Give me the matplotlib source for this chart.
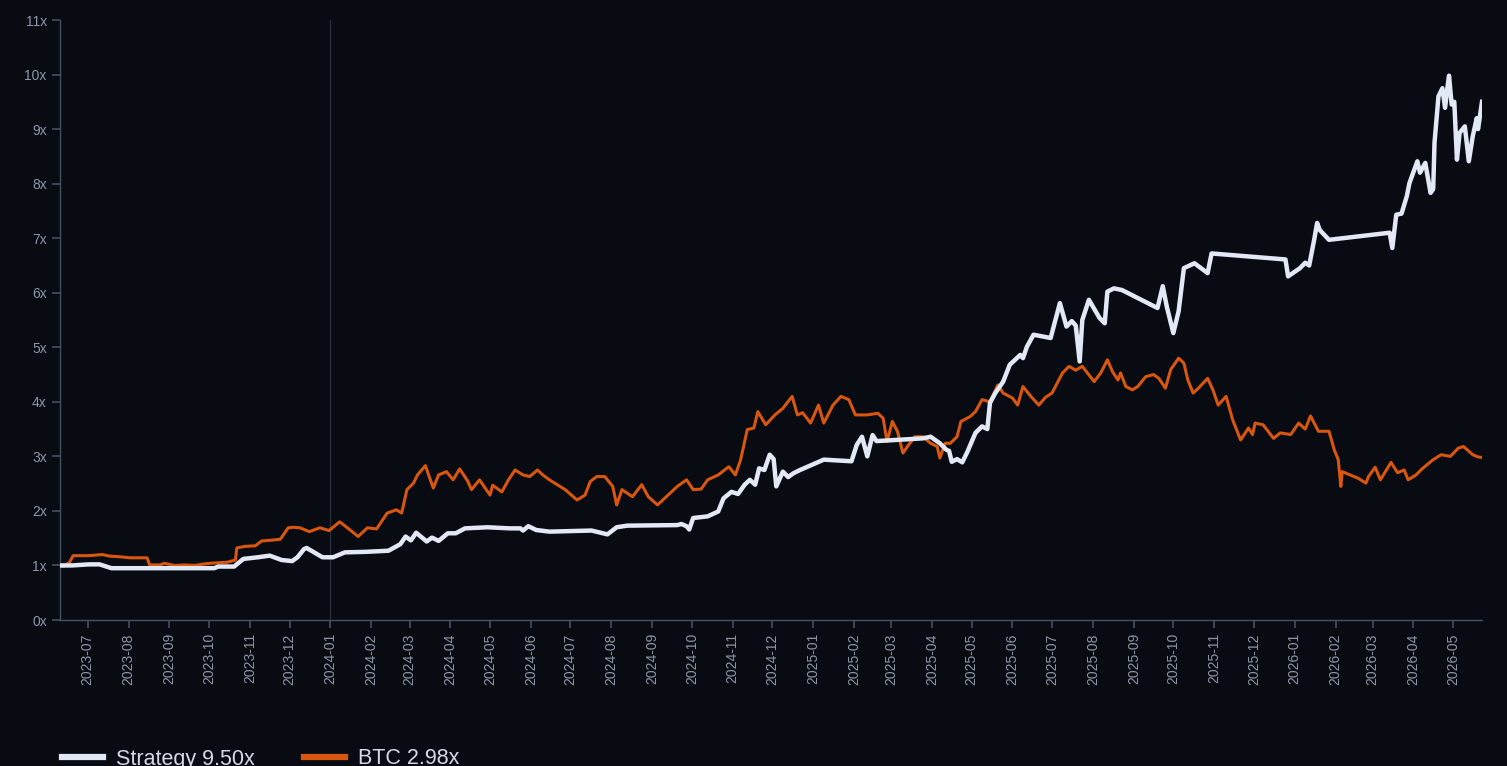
import matplotlib
matplotlib.use("Agg")
import matplotlib.pyplot as plt
import matplotlib.dates as mdates
from matplotlib.lines import Line2D
import pandas as pd

# --- data ---
strategy_dates = [
    "2023-06-10", "2023-06-19", "2023-07-02", "2023-07-10", "2023-07-19", "2023-10-05",
    "2023-10-08", "2023-10-20", "2023-10-27", "2023-11-07", "2023-11-16", "2023-11-25",
    "2023-12-03", "2023-12-07", "2023-12-12", "2023-12-14", "2023-12-26", "2024-01-03",
    "2024-01-12", "2024-01-28", "2024-02-14", "2024-02-23", "2024-02-27", "2024-03-02",
    "2024-03-06", "2024-03-14", "2024-03-18", "2024-03-23", "2024-03-30", "2024-04-05",
    "2024-04-12", "2024-04-29", "2024-05-16", "2024-05-24", "2024-05-26", "2024-05-30",
    "2024-06-05", "2024-06-15", "2024-07-17", "2024-07-29", "2024-08-05", "2024-08-13",
    "2024-09-20", "2024-09-23", "2024-09-27", "2024-09-29", "2024-10-02", "2024-10-13",
    "2024-10-21", "2024-10-25", "2024-10-31", "2024-11-05", "2024-11-10", "2024-11-14",
    "2024-11-18", "2024-11-21", "2024-11-25", "2024-11-29", "2024-12-02", "2024-12-04",
    "2024-12-09", "2024-12-13", "2024-12-17", "2024-12-22", "2025-01-09", "2025-01-30",
    "2025-02-03", "2025-02-07", "2025-02-11", "2025-02-15", "2025-02-18", "2025-03-25",
    "2025-03-31", "2025-04-07", "2025-04-12", "2025-04-14", "2025-04-16", "2025-04-20",
    "2025-04-24", "2025-04-28", "2025-05-04", "2025-05-09", "2025-05-13", "2025-05-15",
    "2025-05-19", "2025-05-25", "2025-05-30", "2025-06-07", "2025-06-09", "2025-06-12",
    "2025-06-17", "2025-06-30", "2025-07-07", "2025-07-12", "2025-07-16", "2025-07-19",
    "2025-07-22", "2025-07-24", "2025-07-29", "2025-08-06", "2025-08-10", "2025-08-12",
    "2025-08-17", "2025-08-23", "2025-09-19", "2025-09-23", "2025-09-26", "2025-10-01",
    "2025-10-05", "2025-10-09", "2025-10-17", "2025-10-27", "2025-10-30", "2025-12-25",
    "2025-12-27", "2026-01-05", "2026-01-09", "2026-01-12", "2026-01-16", "2026-01-18",
    "2026-01-20", "2026-01-27", "2026-03-14", "2026-03-16", "2026-03-19", "2026-03-23",
    "2026-03-27", "2026-03-29", "2026-04-04", "2026-04-06", "2026-04-10", "2026-04-14",
    "2026-04-16", "2026-04-17", "2026-04-20", "2026-04-23", "2026-04-25", "2026-04-27",
    "2026-04-28", "2026-04-30", "2026-05-02", "2026-05-04", "2026-05-06", "2026-05-10",
    "2026-05-13", "2026-05-16", "2026-05-19", "2026-05-20", "2026-05-23",
]
strategy_values = [
    1.00, 1.00, 1.02, 1.02, 0.95, 0.95,
    0.98, 0.98, 1.12, 1.15, 1.18, 1.10,
    1.08, 1.15, 1.30, 1.32, 1.15, 1.15,
    1.24, 1.25, 1.27, 1.39, 1.53, 1.46,
    1.60, 1.44, 1.51, 1.45, 1.59, 1.59,
    1.68, 1.70, 1.68, 1.68, 1.64, 1.72,
    1.65, 1.62, 1.64, 1.57, 1.70, 1.73,
    1.74, 1.76, 1.72, 1.66, 1.87, 1.90,
    1.99, 2.23, 2.35, 2.31, 2.48, 2.57,
    2.48, 2.78, 2.75, 3.03, 2.95, 2.45,
    2.72, 2.62, 2.69, 2.75, 2.94, 2.91,
    3.21, 3.36, 3.00, 3.39, 3.28, 3.33,
    3.36, 3.24, 3.12, 3.10, 2.90, 2.95,
    2.89, 3.09, 3.43, 3.55, 3.50, 3.98,
    4.16, 4.37, 4.68, 4.86, 4.80, 5.01,
    5.23, 5.17, 5.81, 5.38, 5.48, 5.40,
    4.74, 5.50, 5.87, 5.54, 5.44, 6.02,
    6.08, 6.05, 5.72, 6.12, 5.75, 5.26,
    5.66, 6.45, 6.54, 6.36, 6.72, 6.61,
    6.30, 6.45, 6.55, 6.50, 7.00, 7.28,
    7.15, 6.97, 7.10, 6.82, 7.43, 7.45,
    7.77, 8.01, 8.41, 8.20, 8.38, 7.83,
    7.90, 8.75, 9.60, 9.75, 9.39, 9.80,
    9.98, 9.45, 9.50, 8.44, 8.93, 9.05,
    8.41, 8.87, 9.20, 9.00, 9.50,
]

btc_dates = [
    "2023-06-10", "2023-06-13", "2023-06-17", "2023-06-20", "2023-06-25", "2023-07-02",
    "2023-07-12", "2023-07-18", "2023-07-25", "2023-08-02", "2023-08-09", "2023-08-15",
    "2023-08-17", "2023-08-25", "2023-08-28", "2023-09-05", "2023-09-13", "2023-09-20",
    "2023-09-28", "2023-10-02", "2023-10-09", "2023-10-15", "2023-10-21", "2023-10-22",
    "2023-10-28", "2023-11-05", "2023-11-10", "2023-11-16", "2023-11-24", "2023-11-30",
    "2023-12-04", "2023-12-09", "2023-12-16", "2023-12-24", "2023-12-31", "2024-01-08",
    "2024-01-16", "2024-01-22", "2024-01-29", "2024-02-05", "2024-02-13", "2024-02-20",
    "2024-02-24", "2024-02-28", "2024-03-04", "2024-03-07", "2024-03-13", "2024-03-15",
    "2024-03-19", "2024-03-23", "2024-03-29", "2024-04-03", "2024-04-08", "2024-04-14",
    "2024-04-17", "2024-04-23", "2024-05-01", "2024-05-03", "2024-05-10", "2024-05-15",
    "2024-05-20", "2024-05-26", "2024-05-31", "2024-06-06", "2024-06-10", "2024-06-15",
    "2024-06-19", "2024-06-27", "2024-07-06", "2024-07-12", "2024-07-16", "2024-07-21",
    "2024-07-27", "2024-08-02", "2024-08-05", "2024-08-09", "2024-08-17", "2024-08-24",
    "2024-08-29", "2024-09-05", "2024-09-13", "2024-09-20", "2024-09-27", "2024-10-02",
    "2024-10-08", "2024-10-13", "2024-10-21", "2024-10-29", "2024-11-03", "2024-11-07",
    "2024-11-12", "2024-11-17", "2024-11-20", "2024-11-26", "2024-12-03", "2024-12-09",
    "2024-12-16", "2024-12-20", "2024-12-24", "2024-12-30", "2025-01-05", "2025-01-09",
    "2025-01-16", "2025-01-22", "2025-01-28", "2025-02-02", "2025-02-11", "2025-02-19",
    "2025-02-23", "2025-02-26", "2025-03-02", "2025-03-06", "2025-03-10", "2025-03-14",
    "2025-03-19", "2025-03-25", "2025-03-31", "2025-04-05", "2025-04-07", "2025-04-11",
    "2025-04-15", "2025-04-20", "2025-04-23", "2025-04-30", "2025-05-04", "2025-05-09",
    "2025-05-15", "2025-05-21", "2025-05-25", "2025-06-01", "2025-06-05", "2025-06-09",
    "2025-06-15", "2025-06-21", "2025-06-26", "2025-07-01", "2025-07-09", "2025-07-14",
    "2025-07-19", "2025-07-24", "2025-08-02", "2025-08-07", "2025-08-12", "2025-08-16",
    "2025-08-20", "2025-08-22", "2025-08-26", "2025-08-31", "2025-09-04", "2025-09-10",
    "2025-09-16", "2025-09-20", "2025-09-25", "2025-09-29", "2025-10-05", "2025-10-09",
    "2025-10-12", "2025-10-16", "2025-10-20", "2025-10-27", "2025-10-31", "2025-11-04",
    "2025-11-10", "2025-11-15", "2025-11-21", "2025-11-27", "2025-11-30", "2025-12-02",
    "2025-12-08", "2025-12-16", "2025-12-21", "2025-12-29", "2026-01-04", "2026-01-09",
    "2026-01-13", "2026-01-19", "2026-01-27", "2026-01-31", "2026-02-03", "2026-02-05",
    "2026-02-06", "2026-02-12", "2026-02-18", "2026-02-24", "2026-02-26", "2026-03-03",
    "2026-03-07", "2026-03-15", "2026-03-20", "2026-03-25", "2026-03-28", "2026-04-03",
    "2026-04-08", "2026-04-16", "2026-04-22", "2026-04-29", "2026-05-05", "2026-05-09",
    "2026-05-16", "2026-05-20", "2026-05-23",
]
btc_values = [
    0.99, 0.99, 1.05, 1.18, 1.18, 1.18,
    1.20, 1.17, 1.16, 1.14, 1.14, 1.14,
    1.01, 1.01, 1.04, 1.00, 1.01, 1.00,
    1.03, 1.04, 1.05, 1.06, 1.10, 1.32,
    1.35, 1.36, 1.45, 1.46, 1.48, 1.69,
    1.70, 1.69, 1.62, 1.69, 1.64, 1.80,
    1.65, 1.53, 1.69, 1.67, 1.96, 2.02,
    1.96, 2.39, 2.51, 2.66, 2.83, 2.69,
    2.42, 2.66, 2.72, 2.57, 2.77, 2.55,
    2.39, 2.57, 2.29, 2.47, 2.35, 2.57,
    2.75, 2.66, 2.63, 2.75, 2.66, 2.57,
    2.51, 2.39, 2.20, 2.29, 2.54, 2.63,
    2.63, 2.45, 2.11, 2.39, 2.26, 2.48,
    2.26, 2.11, 2.29, 2.45, 2.57, 2.39,
    2.40, 2.57, 2.66, 2.81, 2.66, 2.94,
    3.49, 3.52, 3.82, 3.58, 3.76, 3.88,
    4.10, 3.76, 3.80, 3.61, 3.94, 3.61,
    3.94, 4.10, 4.04, 3.76, 3.76, 3.79,
    3.70, 3.27, 3.64, 3.45, 3.06, 3.20,
    3.36, 3.36, 3.24, 3.18, 2.97, 3.24,
    3.24, 3.36, 3.64, 3.73, 3.82, 4.04,
    4.00, 4.31, 4.16, 4.07, 3.94, 4.28,
    4.10, 3.94, 4.08, 4.16, 4.53, 4.65,
    4.58, 4.65, 4.37, 4.53, 4.77, 4.55,
    4.40, 4.53, 4.28, 4.22, 4.28, 4.46,
    4.50, 4.43, 4.25, 4.59, 4.80, 4.71,
    4.40, 4.16, 4.25, 4.43, 4.22, 3.94,
    4.10, 3.67, 3.30, 3.52, 3.40, 3.61,
    3.58, 3.33, 3.43, 3.40, 3.61, 3.50,
    3.74, 3.46, 3.46, 3.12, 2.94, 2.45,
    2.72, 2.66, 2.60, 2.51, 2.63, 2.80,
    2.57, 2.89, 2.70, 2.75, 2.57, 2.66,
    2.78, 2.94, 3.03, 3.00, 3.15, 3.18,
    3.03, 2.99, 2.98,
]

strategy_label = "Strategy 9.50x"
btc_label = "BTC 2.98x"
split_date = "2024-01-01"

bg = "#080b12"
strategy_color = "#e3e8f6"
btc_color = "#d9560e"
tick_color = "#8d97a8"
spine_color = "#465063"

s_dates = pd.to_datetime(strategy_dates)
b_dates = pd.to_datetime(btc_dates)

fig = plt.figure(figsize=(15.07, 7.66), dpi=100, facecolor=bg)
ax = fig.add_axes([60 / 1507, 1 - 620 / 766, (1482 - 60) / 1507, 600 / 766])
ax.set_facecolor(bg)

ax.axvline(pd.Timestamp(split_date), color="#262d3a", lw=1, zorder=1)
ax.plot(b_dates, btc_values, color=btc_color, lw=2.2, zorder=2, solid_joinstyle="round")
ax.plot(s_dates, strategy_values, color=strategy_color, lw=3.2, zorder=3, solid_joinstyle="round")

ax.set_xlim(s_dates[0], s_dates[-1])
ax.set_ylim(0, 11)
ax.set_yticks(range(0, 12))
ax.set_yticklabels([f"{i}x" for i in range(0, 12)])

ax.xaxis.set_major_locator(mdates.MonthLocator())
ax.xaxis.set_major_formatter(mdates.DateFormatter("%Y-%m"))
plt.setp(ax.get_xticklabels(), rotation=90)

for side in ["top", "right"]:
    ax.spines[side].set_visible(False)
for side in ["left", "bottom"]:
    ax.spines[side].set_color(spine_color)
    ax.spines[side].set_linewidth(1)

ax.tick_params(axis="both", colors=spine_color, labelcolor=tick_color, labelsize=10,
               length=6, width=1.2)
for lab in ax.get_xticklabels() + ax.get_yticklabels():
    lab.set_family(["Liberation Sans", "DejaVu Sans"])

handles = [
    Line2D([], [], color=strategy_color, lw=4.5),
    Line2D([], [], color=btc_color, lw=4.5),
]
leg = fig.legend(handles, [strategy_label, btc_label], loc="center left",
                 bbox_to_anchor=(62 / 1507, 1 - 759 / 766), ncol=2, frameon=False,
                 handlelength=1.9, handletextpad=0.6, columnspacing=2.3,
                 borderpad=0, borderaxespad=0,
                 prop={"family": ["Liberation Sans", "DejaVu Sans"], "size": 15.5})
for t in leg.get_texts():
    t.set_color("#d4d9e3")

fig.savefig("out.png", dpi=100, facecolor=bg)
